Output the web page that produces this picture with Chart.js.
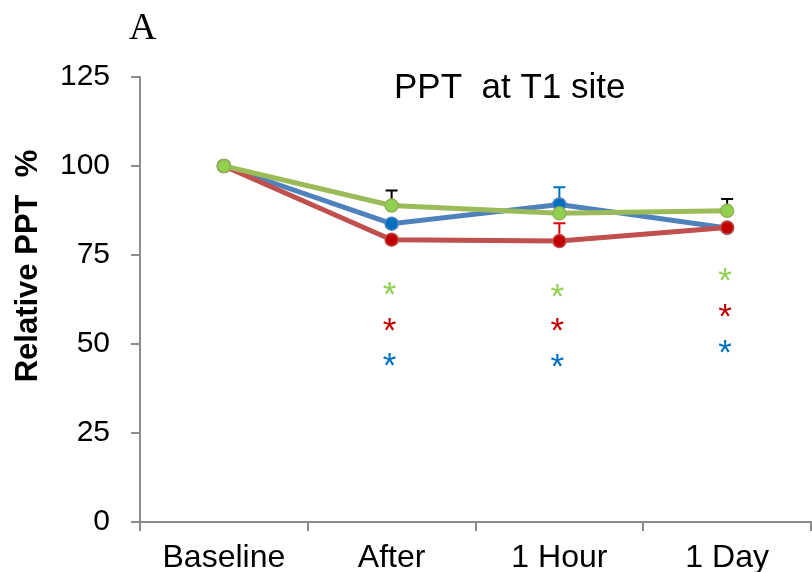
<!DOCTYPE html>
<html>
<head>
<meta charset="utf-8">
<script src="https://cdn.jsdelivr.net/npm/chart.js@4.4.1/dist/chart.umd.min.js"></script>
<style>
  html, body { margin: 0; padding: 0; background: #ffffff; }
  #wrap { position: relative; width: 812px; height: 572px; }
</style>
</head>
<body>
<div id="wrap"><canvas id="c" width="812" height="572"></canvas></div>
<script>
// ---- data ----
const categories = ['Baseline', 'After', '1 Hour', '1 Day'];
const yTickValues = [0, 25, 50, 75, 100, 125];
const blueValues  = [100, 83.8, 89.2, 82.6];
const redValues   = [100, 79.3, 78.9, 82.7];
const greenValues = [100, 88.9, 86.7, 87.4];
const blueErrors  = [0, 0, 4.8, 0];
const redErrors   = [0, 0, 5.0, 0];
const greenErrors = [0, 4.2, 0, 3.3];
// positions (in value units) of the significance asterisks
const greenStars = [null, 65.3, 64.9, 69.4];
const redStars   = [null, 55.3, 55.1, 59.1];
const blueStars  = [null, 45.3, 45.0, 49.0];
const chartTitle = 'PPT  at T1 site';
const yTitle = 'Relative PPT  %';
const panelLetter = 'A';

const SANS = '"Liberation Sans", Arial, sans-serif';
const AXIS = '#8c8c8c';

const series = [
  { name: 'green', values: greenValues, errors: greenErrors, stars: greenStars,
    line: '#9BBB59', point: '#92D050', pointBorder: '#8FB255', err: '#000000', star: '#92D050' },
  { name: 'red', values: redValues, errors: redErrors, stars: redStars,
    line: '#C0504D', point: '#C00000', pointBorder: '#C0504D', err: '#E00000', star: '#C00000' },
  { name: 'blue', values: blueValues, errors: blueErrors, stars: blueStars,
    line: '#4F81BD', point: '#0070C0', pointBorder: '#4F81BD', err: '#0070C0', star: '#0070C0' }
];

const extras = {
  id: 'extras',
  beforeDatasetsDraw(chart) {
    const ctx = chart.ctx, x = chart.scales.x, y = chart.scales.y;
    ctx.save();
    series.forEach(s => {
      s.errors.forEach((e, i) => {
        if (!e) return;
        const px = x.getPixelForValue(i);
        const p0 = y.getPixelForValue(s.values[i]);
        const p1 = y.getPixelForValue(s.values[i] + e);
        ctx.strokeStyle = s.err;
        ctx.lineWidth = 2;
        ctx.beginPath();
        ctx.moveTo(px, p0); ctx.lineTo(px, p1);
        ctx.moveTo(px - 6, p1); ctx.lineTo(px + 6, p1);
        ctx.stroke();
      });
    });
    ctx.restore();
  },
  afterDatasetsDraw(chart) {
    const ctx = chart.ctx, x = chart.scales.x, y = chart.scales.y, a = chart.chartArea;
    ctx.save();
    // asterisks
    const fs = 35;
    ctx.font = fs + 'px ' + SANS;
    ctx.textAlign = 'center';
    ctx.textBaseline = 'alphabetic';
    series.forEach(s => {
      s.stars.forEach((v, i) => {
        if (v === null) return;
        ctx.fillStyle = s.star;
        ctx.fillText('*', x.getPixelForValue(i) - 2, y.getPixelForValue(v) + 0.475 * fs);
      });
    });
    // chart title
    ctx.fillStyle = '#000';
    ctx.font = '35px ' + SANS;
    ctx.textAlign = 'center';
    ctx.fillText(chartTitle, a.left + 0.551 * (a.right - a.left), 98);
    // panel letter
    ctx.font = '38px "Liberation Serif", "Times New Roman", serif';
    ctx.textAlign = 'left';
    ctx.fillText(panelLetter, 129, 39);
    // y title
    ctx.translate(37, 266);
    ctx.rotate(-Math.PI / 2);
    ctx.font = 'bold 31px ' + SANS;
    ctx.textAlign = 'center';
    ctx.fillText(yTitle, 0, 0);
    ctx.restore();
  }
};

new Chart(document.getElementById('c'), {
  type: 'line',
  data: {
    labels: categories,
    datasets: series.map(s => ({
      label: s.name,
      data: s.values,
      borderColor: s.line,
      borderWidth: 5,
      backgroundColor: s.point,
      pointBackgroundColor: s.point,
      pointBorderColor: s.pointBorder,
      pointBorderWidth: 1.5,
      pointRadius: 6.5,
      tension: 0,
      fill: false
    }))
  },
  options: {
    responsive: false,
    animation: false,
    devicePixelRatio: 1,
    layout: { autoPadding: false, padding: { top: 77, right: 1, left: 0, bottom: 0 } },
    plugins: { legend: { display: false }, tooltip: { enabled: false }, title: { display: false } },
    scales: {
      x: {
        offset: true,
        grid: { offset: true, drawOnChartArea: false, drawTicks: true, tickLength: 9, color: AXIS, lineWidth: 2 },
        border: { display: true, color: AXIS, width: 2 },
        ticks: { color: '#000', font: { family: SANS, size: 32 }, padding: 8, maxRotation: 0, autoSkip: false },
        afterFit(scale) { scale.height = 50; scale.paddingRight = 0; scale.paddingLeft = 0; }
      },
      y: {
        min: 0, max: 125,
        afterBuildTicks(scale) { scale.ticks = yTickValues.map(v => ({ value: v })); },
        grid: { drawOnChartArea: false, drawTicks: true, tickLength: 9, color: AXIS, lineWidth: 2 },
        border: { display: true, color: AXIS, width: 2 },
        ticks: { color: '#000', font: { family: SANS, size: 30 }, padding: 21 },
        afterFit(scale) { scale.width = 140; }
      }
    }
  },
  plugins: [extras]
});
</script>
</body>
</html>
